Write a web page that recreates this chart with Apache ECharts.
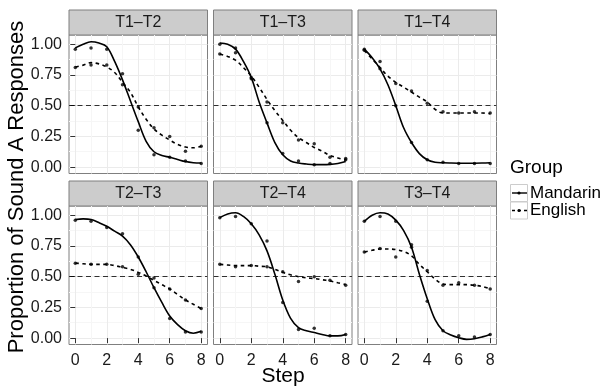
<!DOCTYPE html>
<html>
<head>
<meta charset="utf-8">
<script src="https://cdn.jsdelivr.net/npm/echarts@6/dist/echarts.min.js"></script>
<style>
  html, body { margin: 0; padding: 0; background: #fff; }
  #chart { width: 605px; height: 390px; }
</style>
</head>
<body>
<div id="chart"></div>
<script>
const panels = ['T1–T2', 'T1–T3', 'T1–T4', 'T2–T3', 'T2–T4', 'T3–T4']
const steps = [0, 1, 2, 3, 4, 5, 6, 7, 8]
const curveSteps = [0, 0.5, 1, 1.5, 2, 2.5, 3, 3.5, 4, 4.5, 5, 5.5, 6, 6.5, 7, 7.5, 8]
const xTicks = [0, 2, 4, 6, 8]
const xMinor = [1, 3, 5, 7]
const yTicks = [0, 0.25, 0.5, 0.75, 1]
const yMinor = [0.125, 0.375, 0.625, 0.875]
const refLine = 0.5

// observed proportions, one row per panel
const mandarinPoints = [
  [0.96, 0.97, 0.96, 0.67, 0.30, 0.10, 0.08, 0.05, 0.03],
  [1.00, 0.97, 0.73, 0.36, 0.11, 0.05, 0.02, 0.03, 0.06],
  [0.96, 0.80, 0.50, 0.20, 0.06, 0.04, 0.03, 0.03, 0.03],
  [0.96, 0.95, 0.90, 0.85, 0.66, 0.41, 0.16, 0.05, 0.05],
  [0.98, 0.99, 0.93, 0.79, 0.29, 0.07, 0.08, 0.02, 0.03],
  [0.95, 0.99, 0.95, 0.76, 0.30, 0.06, 0.02, 0.01, 0.03]
]
const englishPoints = [
  [0.81, 0.83, 0.83, 0.76, 0.49, 0.32, 0.25, 0.13, 0.17],
  [0.92, 0.93, 0.72, 0.53, 0.36, 0.22, 0.19, 0.08, 0.07],
  [0.95, 0.86, 0.68, 0.62, 0.52, 0.45, 0.44, 0.45, 0.44],
  [0.61, 0.60, 0.60, 0.58, 0.52, 0.49, 0.40, 0.31, 0.24],
  [0.60, 0.58, 0.59, 0.58, 0.54, 0.46, 0.50, 0.47, 0.43],
  [0.70, 0.73, 0.66, 0.74, 0.55, 0.43, 0.45, 0.43, 0.40]
]

const mandarinCurve = [
  [0.97, 1.00, 1.02, 1.01, 0.98, 0.86, 0.71, 0.54, 0.37, 0.21, 0.125, 0.095, 0.08, 0.062, 0.045, 0.036, 0.033],
  [1.01, 1.00, 0.96, 0.86, 0.73, 0.53, 0.36, 0.20, 0.10, 0.05, 0.033, 0.025, 0.02, 0.02, 0.022, 0.03, 0.045],
  [0.96, 0.89, 0.80, 0.67, 0.50, 0.32, 0.20, 0.11, 0.06, 0.04, 0.035, 0.033, 0.032, 0.032, 0.032, 0.033, 0.035],
  [0.965, 0.97, 0.965, 0.94, 0.91, 0.87, 0.83, 0.76, 0.66, 0.54, 0.41, 0.29, 0.18, 0.11, 0.06, 0.04, 0.055],
  [0.98, 1.01, 1.02, 0.99, 0.93, 0.84, 0.71, 0.52, 0.31, 0.16, 0.085, 0.06, 0.045, 0.03, 0.018, 0.018, 0.03],
  [0.95, 1.00, 1.02, 1.01, 0.96, 0.875, 0.74, 0.52, 0.32, 0.15, 0.06, 0.025, 0.003, -0.01, -0.005, 0.01, 0.03]
]
const englishCurve = [
  [0.815, 0.83, 0.85, 0.84, 0.815, 0.77, 0.69, 0.61, 0.49, 0.39, 0.31, 0.26, 0.22, 0.185, 0.163, 0.157, 0.17],
  [0.92, 0.90, 0.87, 0.81, 0.74, 0.65, 0.55, 0.46, 0.38, 0.30, 0.24, 0.20, 0.16, 0.13, 0.095, 0.075, 0.055],
  [0.95, 0.88, 0.81, 0.74, 0.69, 0.65, 0.61, 0.57, 0.53, 0.47, 0.44, 0.44, 0.44, 0.44, 0.44, 0.44, 0.435],
  [0.61, 0.605, 0.60, 0.60, 0.60, 0.59, 0.575, 0.56, 0.535, 0.505, 0.47, 0.435, 0.40, 0.355, 0.31, 0.275, 0.24],
  [0.60, 0.595, 0.59, 0.59, 0.59, 0.585, 0.58, 0.56, 0.535, 0.515, 0.50, 0.49, 0.485, 0.475, 0.465, 0.45, 0.435],
  [0.70, 0.715, 0.725, 0.725, 0.72, 0.705, 0.67, 0.60, 0.54, 0.48, 0.44, 0.435, 0.435, 0.435, 0.43, 0.42, 0.40]
]

const font = "'Liberation Sans', Arial, Helvetica, sans-serif"
const colLeft = [69, 213.5, 358]
const rowTop = [35, 206]
const panelW = 138.5
const panelH = 138.5
const stripH = 25

const chart = echarts.init(document.getElementById('chart'))

const grid = []
const xAxis = []
const yAxis = []
const series = []
const graphic = []

panels.forEach((name, i) => {
  const r = Math.floor(i / 3)
  const c = i % 3
  const showX = r === 1
  const showY = c === 0

  grid.push({
    left: colLeft[c], top: rowTop[r], width: panelW, height: panelH,
    show: true, backgroundColor: '#fff', borderColor: '#7f7f7f', borderWidth: 1,
    containLabel: false, outerBoundsMode: 'none'
  })

  // main x axis (ticks, labels, major grid)
  xAxis.push({
    type: 'value', gridIndex: i, min: -0.4, max: 8.4,
    axisLine: { show: false },
    axisTick: { show: showX, customValues: xTicks, length: 5, lineStyle: { color: '#333', width: 1 } },
    axisLabel: { show: showX, customValues: xTicks, margin: 8, fontSize: 16, color: '#1a1a1a', fontFamily: font },
    splitLine: { show: true, lineStyle: { color: '#ebebeb', width: 1 } }
  })
  // minor x grid
  xAxis.push({
    type: 'value', gridIndex: i, min: -0.4, max: 8.4,
    axisLine: { show: false },
    axisTick: { show: false, customValues: xMinor },
    axisLabel: { show: false, customValues: xMinor },
    splitLine: { show: true, lineStyle: { color: '#f6f6f6', width: 1 } }
  })
  yAxis.push({
    type: 'value', gridIndex: i, min: -0.052, max: 1.075,
    axisLine: { show: false },
    axisTick: { show: showY, customValues: yTicks, length: 5, lineStyle: { color: '#333', width: 1 } },
    axisLabel: {
      show: showY, customValues: yTicks, margin: 7, fontSize: 16, color: '#1a1a1a', fontFamily: font,
      formatter: (v) => v.toFixed(2)
    },
    splitLine: { show: true, lineStyle: { color: '#ebebeb', width: 1 } }
  })
  yAxis.push({
    type: 'value', gridIndex: i, min: -0.052, max: 1.075,
    axisLine: { show: false },
    axisTick: { show: false, customValues: yMinor },
    axisLabel: { show: false, customValues: yMinor },
    splitLine: { show: true, lineStyle: { color: '#f6f6f6', width: 1 } }
  })

  const xi = i * 2
  const yi = i * 2

  series.push({
    name: 'Mandarin', type: 'line', xAxisIndex: xi, yAxisIndex: yi,
    data: curveSteps.map((s, k) => [s, mandarinCurve[i][k]]),
    smooth: 0.35, showSymbol: false, symbol: 'none',
    lineStyle: { color: '#000', width: 1.6 },
    markLine: {
      silent: true, symbol: 'none', label: { show: false },
      lineStyle: { color: '#000', width: 0.8, type: [5, 3.5] },
      data: [{ yAxis: refLine }]
    },
    z: 3
  })
  series.push({
    name: 'English', type: 'line', xAxisIndex: xi, yAxisIndex: yi,
    data: curveSteps.map((s, k) => [s, englishCurve[i][k]]),
    smooth: 0.35, showSymbol: false, symbol: 'none',
    lineStyle: { color: '#000', width: 1.6, type: [3.5, 3.5] },
    z: 3
  })
  series.push({
    type: 'scatter', xAxisIndex: xi, yAxisIndex: yi,
    data: steps.map((s, k) => [s, mandarinPoints[i][k]]),
    symbolSize: 3.5, itemStyle: { color: '#000' }, z: 4
  })
  series.push({
    type: 'scatter', xAxisIndex: xi, yAxisIndex: yi,
    data: steps.map((s, k) => [s, englishPoints[i][k]]),
    symbolSize: 3.5, itemStyle: { color: '#000' }, z: 4
  })

  // facet strip
  graphic.push({
    type: 'rect',
    shape: { x: colLeft[c], y: rowTop[r] - stripH, width: panelW, height: stripH },
    style: { fill: '#cccccc', stroke: '#7f7f7f', lineWidth: 1 }
  })
  graphic.push({
    type: 'text',
    x: colLeft[c] + panelW / 2, y: rowTop[r] - stripH / 2,
    style: {
      text: name, font: '16px ' + font, fill: '#1a1a1a',
      align: 'center', verticalAlign: 'middle', textAlign: 'center', textVerticalAlign: 'middle'
    }
  })
})

// axis titles
graphic.push({
  type: 'text', x: 283, y: 376,
  style: {
    text: 'Step', font: '21px ' + font, fill: '#000',
    align: 'center', verticalAlign: 'middle', textAlign: 'center', textVerticalAlign: 'middle'
  }
})
graphic.push({
  type: 'text', x: 17, y: 187, rotation: Math.PI / 2,
  style: {
    text: 'Proportion of Sound A Responses', font: '22px ' + font, fill: '#000',
    align: 'center', verticalAlign: 'middle', textAlign: 'center', textVerticalAlign: 'middle'
  }
})

// legend
graphic.push({
  type: 'text', x: 510, y: 168,
  style: { text: 'Group', font: '19px ' + font, fill: '#000', verticalAlign: 'middle', textVerticalAlign: 'middle' }
})
const keyNames = ['Mandarin', 'English']
const keyDash = [null, [3, 3]]
keyNames.forEach((k, j) => {
  const ky = 184.5 + j * 17.5
  graphic.push({
    type: 'rect', shape: { x: 510.5, y: ky, width: 17, height: 17 },
    style: { fill: '#fff', stroke: '#cccccc', lineWidth: 1 }
  })
  graphic.push({
    type: 'line', shape: { x1: 512, y1: ky + 8.5, x2: 527, y2: ky + 8.5 },
    style: { stroke: '#000', lineWidth: 1.4, lineDash: keyDash[j] }
  })
  graphic.push({
    type: 'circle', shape: { cx: 519, cy: ky + 8.5, r: 1.6 },
    style: { fill: '#000' }
  })
  graphic.push({
    type: 'text', x: 530, y: ky + 8.5,
    style: { text: k, font: '17px ' + font, fill: '#000', verticalAlign: 'middle', textVerticalAlign: 'middle' }
  })
})

chart.setOption({
  animation: false,
  backgroundColor: '#fff',
  grid, xAxis, yAxis, series, graphic
})
</script>
</body>
</html>
